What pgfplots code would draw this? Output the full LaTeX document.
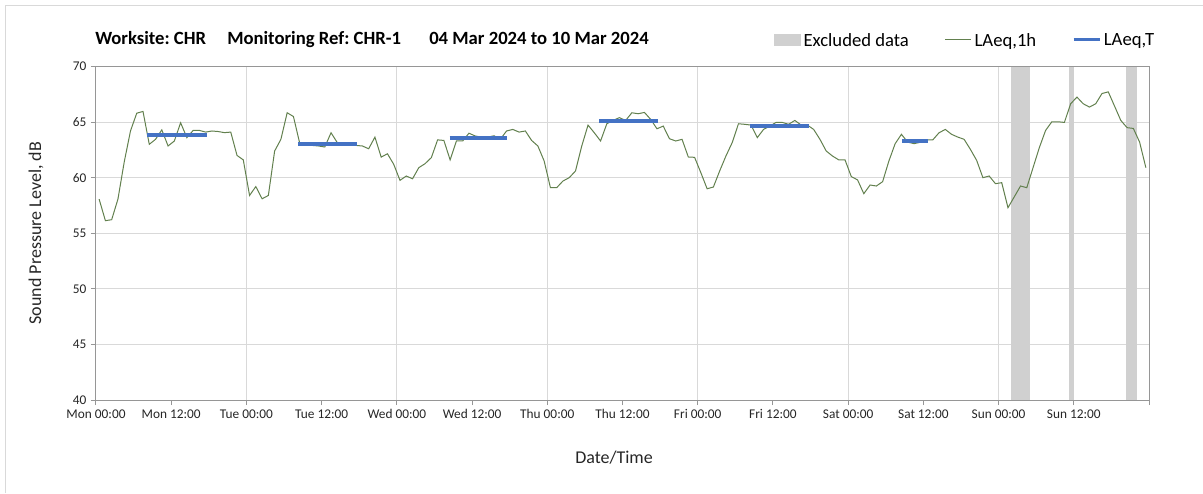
\documentclass[border=0pt]{standalone}
\usepackage{fontspec}
\setmainfont{Carlito}
\usepackage{pgfplots}
\pgfplotsset{compat=1.18}
\definecolor{lgreen}{RGB}{98,128,78}
\definecolor{lblue}{RGB}{68,114,196}
\definecolor{exgray}{RGB}{208,208,208}
\definecolor{gridc}{RGB}{217,217,217}
\definecolor{axc}{RGB}{150,150,150}
\pgfplotstableread{
h L
0.5 58.07
1.5 56.13
2.5 56.22
3.5 58.07
4.5 61.4
5.5 64.2
6.5 65.8
7.5 65.96
8.5 63.0
9.5 63.45
10.5 64.3
11.5 62.85
12.5 63.3
13.5 64.94
14.5 63.6
15.5 64.25
16.5 64.25
17.5 64.1
18.5 64.2
19.5 64.15
20.5 64.05
21.5 64.1
22.5 62.0
23.5 61.6
24.5 58.4
25.5 59.2
26.5 58.1
27.5 58.4
28.5 62.4
29.5 63.45
30.5 65.84
31.5 65.5
32.5 63.1
33.5 63.0
34.5 62.9
35.5 62.85
36.5 62.76
37.5 64.04
38.5 63.15
39.5 63.06
40.5 63.0
41.5 62.9
42.5 62.85
43.5 62.6
44.5 63.65
45.5 61.85
46.5 62.15
47.5 61.2
48.5 59.76
49.5 60.15
50.5 59.9
51.5 60.9
52.5 61.26
53.5 61.8
54.5 63.4
55.5 63.35
56.5 61.6
57.5 63.3
58.5 63.3
59.5 64.0
60.5 63.75
61.5 63.65
62.5 63.65
63.5 63.77
64.5 63.45
65.5 64.2
66.5 64.34
67.5 64.1
68.5 64.2
69.5 63.35
70.5 62.85
71.5 61.5
72.5 59.1
73.5 59.1
74.5 59.7
75.5 60.0
76.5 60.6
77.5 62.85
78.5 64.73
79.5 64.04
80.5 63.3
81.5 64.85
82.5 65.15
83.5 65.4
84.5 65.15
85.5 65.84
86.5 65.75
87.5 65.87
88.5 65.24
89.5 64.4
90.5 64.64
91.5 63.5
92.5 63.3
93.5 63.45
94.5 61.86
95.5 61.83
96.5 60.45
97.5 59.0
98.5 59.16
99.5 60.6
100.5 61.95
101.5 63.15
102.5 64.85
103.5 64.8
104.5 64.73
105.5 63.6
106.5 64.34
107.5 64.64
108.5 64.97
109.5 64.97
110.5 64.8
111.5 65.15
112.5 64.73
113.5 64.73
114.5 64.34
115.5 63.45
116.5 62.4
117.5 61.95
118.5 61.6
119.5 61.6
120.5 60.1
121.5 59.8
122.5 58.56
123.5 59.34
124.5 59.25
125.5 59.64
126.5 61.5
127.5 63.06
128.5 63.9
129.5 63.2
130.5 63.06
131.5 63.18
132.5 63.4
133.5 63.4
134.5 64.04
135.5 64.34
136.5 63.9
137.5 63.65
138.5 63.45
139.5 62.55
140.5 61.56
141.5 60.0
142.5 60.15
143.5 59.46
144.5 59.55
145.5 57.3
146.5 58.27
147.5 59.25
148.5 59.1
149.5 60.9
150.5 62.7
151.5 64.25
152.5 65.03
153.5 65.03
154.5 64.97
155.5 66.65
156.5 67.25
157.5 66.65
158.5 66.35
159.5 66.65
160.5 67.57
161.5 67.72
162.5 66.44
163.5 65.15
164.5 64.5
165.5 64.43
166.5 63.2
167.5 60.9
}\hourly
\begin{document}
\frenchspacing
\begin{tikzpicture}[x=0.75pt,y=-0.75pt]
\useasboundingbox (0,0) rectangle (1203,493);
\draw[gridc, line width=0.75pt] (5,493) -- (5,5) -- (1203,5);
\begin{scope}[font=\fontsize{14}{16}\selectfont\bfseries]
\node[anchor=base west, inner sep=0pt] at (95,44) {Worksite: CHR};
\node[anchor=base west, inner sep=0pt] at (227,44) {Monitoring Ref: CHR-1};
\node[anchor=base west, inner sep=0pt] at (429,44) {04 Mar 2024 to 10 Mar 2024};
\end{scope}
\begin{axis}[
  at={(72pt,-300pt)}, anchor=south west,
  width=789.75pt, height=250.125pt, scale only axis,
  xmin=0, xmax=168, ymin=40, ymax=70,
  xtick={0,12,...,168},
  xticklabels={Mon 00:00,Mon 12:00,Tue 00:00,Tue 12:00,Wed 00:00,Wed 12:00,Thu 00:00,Thu 12:00,Fri 00:00,Fri 12:00,Sat 00:00,Sat 12:00,Sun 00:00,Sun 12:00,{}},
  ytick={40,45,...,70},
  ymajorgrids=true,
  grid style={gridc, line width=0.75pt},
  extra x ticks={24,48,72,96,120,144},
  extra x tick labels={},
  extra x tick style={xmajorgrids=true, major tick length=0pt},
  tick pos=left,
  tick align=outside,
  major tick length=3.75pt,
  tick style={axc, line width=0.75pt},
  axis line style={axc, line width=0.75pt},
  ticklabel style={font=\fontsize{10}{12}\selectfont, text=black!85},
  /pgf/number format/assume math mode=true,
  xlabel={Date/Time}, ylabel={Sound Pressure Level, dB},
  label style={font=\fontsize{13.5}{15}\selectfont, text=black!85},
  xlabel style={at={(axis description cs:0.492,-0.174)}, anchor=center},
  ylabel style={at={(axis description cs:-0.057,0.5)}, anchor=center},
  legend style={at={(rel axis cs:0.6439,1.0765)}, anchor=west, draw=none, fill=none,
    legend columns=3, inner sep=0pt, font=\fontsize{14}{16}\selectfont,
    nodes={inner sep=2pt},
    /tikz/every even column/.append style={column sep=25pt}},
]
\addplot[fill=exgray, draw=none, forget plot] coordinates {(146,40) (149,40) (149,70) (146,70)} -- cycle;
\addplot[fill=exgray, draw=none, forget plot] coordinates {(155.2,40) (156.1,40) (156.1,70) (155.2,70)} -- cycle;
\addplot[fill=exgray, draw=none, forget plot] coordinates {(164.3,40) (166.1,40) (166.1,70) (164.3,70)} -- cycle;
\addplot[lgreen, line width=0.75pt, forget plot] table[x=h, y=L] {\hourly};
\addplot[lblue, line width=2.5pt, forget plot] coordinates {(8.2,63.84) (17.7,63.84)};
\addplot[lblue, line width=2.5pt, forget plot] coordinates {(32.3,63.03) (41.6,63.03)};
\addplot[lblue, line width=2.5pt, forget plot] coordinates {(56.4,63.56) (65.6,63.56)};
\addplot[lblue, line width=2.5pt, forget plot] coordinates {(80.3,65.1) (89.7,65.1)};
\addplot[lblue, line width=2.5pt, forget plot] coordinates {(104.4,64.64) (113.8,64.64)};
\addplot[lblue, line width=2.5pt, forget plot] coordinates {(128.6,63.3) (132.8,63.3)};
\addlegendimage{legend image code/.code={\fill[exgray] (0pt,-3pt) rectangle (19.5pt,5pt);}}
\addlegendentry{Excluded data}
\addlegendimage{lgreen, line width=0.75pt, legend image code/.code={\draw (0pt,1pt) -- (19.5pt,1pt);}}
\addlegendentry{LAeq,1h}
\addlegendimage{lblue, line width=2.2pt, legend image code/.code={\draw (0pt,1pt) -- (19.5pt,1pt);}}
\addlegendentry{LAeq,T}
\end{axis}
\end{tikzpicture}
\end{document}
